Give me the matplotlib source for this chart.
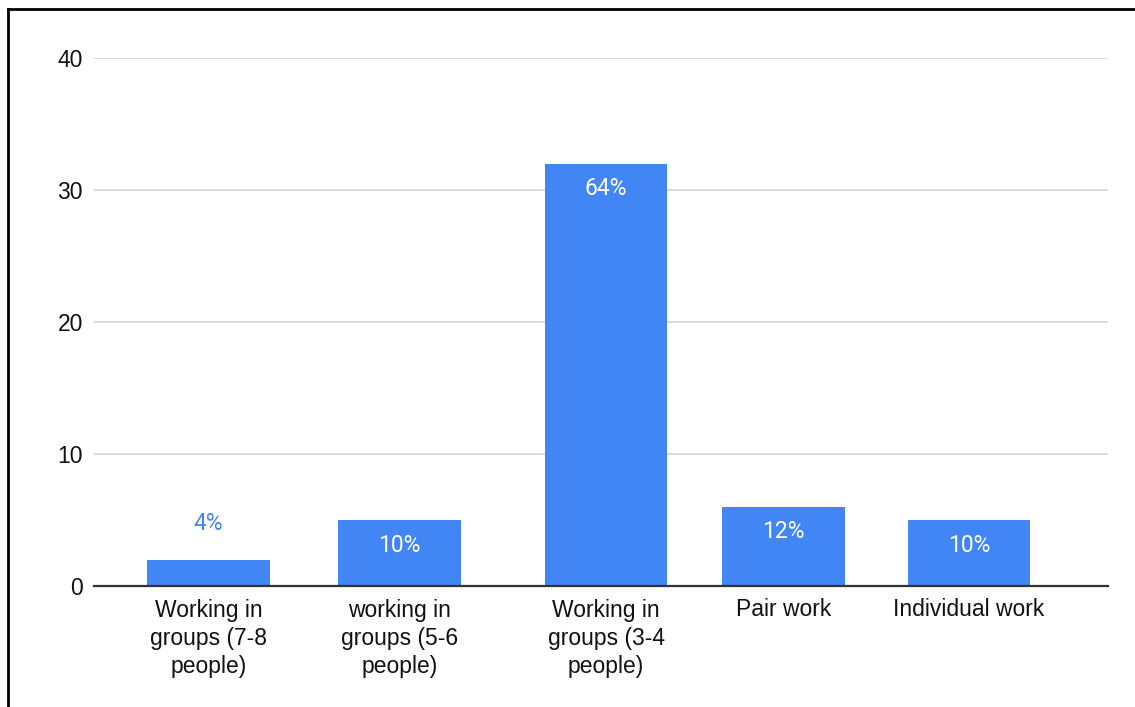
import matplotlib
matplotlib.use("Agg")
import matplotlib.pyplot as plt
from matplotlib.lines import Line2D

categories = [
    "Working in\ngroups (7-8\npeople)",
    "working in\ngroups (5-6\npeople)",
    "Working in\ngroups (3-4\npeople)",
    "Pair work",
    "Individual work",
]
counts = [2, 5, 32, 6, 5]
pct_labels = ["4%", "10%", "64%", "12%", "10%"]
y_ticks = [0, 10, 20, 30, 40]

# category slot centres along the axis (fraction of axis width)
slot_pos = [0.113, 0.301, 0.505, 0.680, 0.863]
bar_width = 0.121

BLUE = "#4285F4"
TEXT = "#111111"

fig = plt.figure(figsize=(11.35, 7.07), dpi=100)
ax = fig.add_axes([94 / 1135, (707 - 586) / 707, (1108 - 94) / 1135, (586 - 58) / 707])

ax.bar(slot_pos, counts, width=bar_width, color=BLUE, zorder=3)

ax.set_xlim(0, 1)
ax.set_ylim(0, 40)
ax.set_yticks(y_ticks)
ax.set_yticklabels([str(t) for t in y_ticks], fontsize=16.5, color=TEXT,
                   family="Liberation Sans")
ax.set_xticks(slot_pos)
ax.set_xticklabels(categories, fontsize=16.5, color=TEXT, family="Liberation Sans",
                   linespacing=1.3, va="top")
ax.tick_params(axis="y", length=0, pad=8)
ax.tick_params(axis="x", length=0, pad=9)

ax.grid(axis="y", color="#d3d3d3", linewidth=1.2, zorder=0)
for s in ["top", "right", "left"]:
    ax.spines[s].set_visible(False)
ax.spines["bottom"].set_color("#333333")
ax.spines["bottom"].set_linewidth(1.6)
ax.spines["bottom"].set_zorder(4)

# value labels: inside the bar when it is tall enough, otherwise above it
for x, v, lab in zip(slot_pos, counts, pct_labels):
    if v >= 4:
        ax.annotate(lab, (x, v), xytext=(0, -18), textcoords="offset points",
                    ha="center", va="center", color="white", fontsize=16.5,
                    family="Roboto", zorder=5)
    else:
        ax.annotate(lab, (x, v), xytext=(0, 26), textcoords="offset points",
                    ha="center", va="center", color=BLUE, fontsize=16.5,
                    family="Roboto", zorder=5)

# outer frame
fig.add_artist(Line2D([7.5 / 1135, 7.5 / 1135], [0, 1 - 9 / 707], transform=fig.transFigure,
                      color="black", linewidth=2))
fig.add_artist(Line2D([7.5 / 1135, 1], [1 - 9 / 707, 1 - 9 / 707], transform=fig.transFigure,
                      color="black", linewidth=2))

fig.savefig("out.png", dpi=100, facecolor="white")
